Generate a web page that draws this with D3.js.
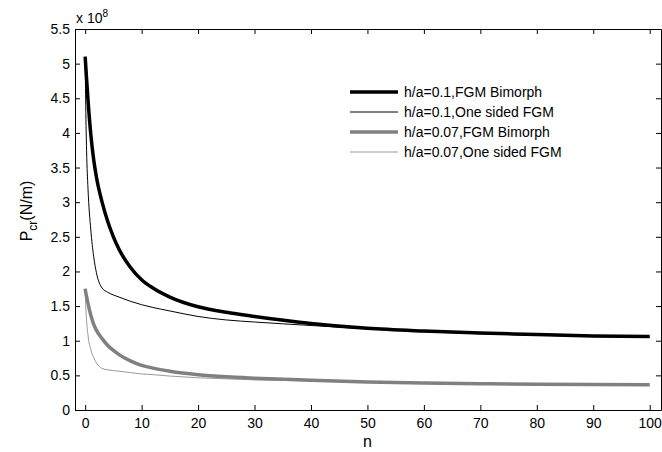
<!DOCTYPE html>
<html>
<head>
<meta charset="utf-8">
<script src="https://cdn.jsdelivr.net/npm/d3@7"></script>
<style>
  body { margin: 0; background: #fff; }
  svg { display: block; font-family: "Liberation Sans", Arial, Helvetica, sans-serif; }
</style>
</head>
<body>
<svg id="chart" width="662" height="452"></svg>
<script>
// sampled n values
const nValues = [0, 0.1, 0.25, 0.5, 1, 1.5, 2, 3, 4, 5, 6, 8, 10, 12, 15, 20, 25, 30, 40, 50, 60, 70, 80, 90, 100];

// values in units of 1e8 N/m
const bimorph01 = [5.10, 4.97, 4.78, 4.48, 3.98, 3.62, 3.36, 3.00, 2.72, 2.50, 2.32, 2.06, 1.88, 1.76, 1.63, 1.49, 1.41, 1.35, 1.25, 1.18, 1.14, 1.11, 1.09, 1.07, 1.06];
const oneSided01 = [5.10, 4.40, 3.75, 3.20, 2.60, 2.22, 1.98, 1.76, 1.70, 1.66, 1.63, 1.57, 1.52, 1.48, 1.43, 1.35, 1.30, 1.27, 1.22, 1.17, 1.13, 1.10, 1.08, 1.06, 1.05];
const bimorph007 = [1.75, 1.70, 1.64, 1.54, 1.37, 1.24, 1.15, 1.03, 0.93, 0.86, 0.80, 0.71, 0.645, 0.605, 0.56, 0.51, 0.48, 0.46, 0.43, 0.405, 0.39, 0.38, 0.372, 0.367, 0.364];
const oneSided007 = [1.75, 1.51, 1.29, 1.08, 0.87, 0.76, 0.68, 0.60, 0.58, 0.57, 0.56, 0.54, 0.52, 0.51, 0.49, 0.465, 0.45, 0.435, 0.42, 0.40, 0.39, 0.38, 0.37, 0.365, 0.36];

const seriesNames = ["h/a=0.1,FGM Bimorph", "h/a=0.1,One sided FGM", "h/a=0.07,FGM Bimorph", "h/a=0.07,One sided FGM"];
const xTicks = [0, 10, 20, 30, 40, 50, 60, 70, 80, 90, 100];
const yTicks = [0, 0.5, 1, 1.5, 2, 2.5, 3, 3.5, 4, 4.5, 5, 5.5];

const series = [
  { name: seriesNames[0], values: bimorph01, color: "#000", width: 3.5 },
  { name: seriesNames[1], values: oneSided01, color: "#000", width: 1 },
  { name: seriesNames[2], values: bimorph007, color: "#808080", width: 3.5 },
  { name: seriesNames[3], values: oneSided007, color: "#999", width: 1 }
];

const svg = d3.select("#chart");
const margin = { left: 75, right: 1, top: 29, bottom: 42 };
const W = 662, H = 452;

const x = d3.scaleLinear().domain([-1.8, 102]).range([margin.left, W - margin.right]);
const y = d3.scaleLinear().domain([0, 5.5]).range([H - margin.bottom, margin.top]);

svg.append("defs").append("clipPath").attr("id", "clip")
  .append("rect")
  .attr("x", margin.left).attr("y", margin.top)
  .attr("width", W - margin.left - margin.right)
  .attr("height", H - margin.top - margin.bottom);

const fmt = d => String(d);

// bottom axis
const xAxis = svg.append("g")
  .attr("transform", `translate(0,${H - margin.bottom})`)
  .call(d3.axisBottom(x).tickValues(xTicks).tickFormat(fmt).tickSizeInner(-5).tickSizeOuter(0).tickPadding(8));
// top axis (mirrored ticks)
const xTop = svg.append("g")
  .attr("transform", `translate(0,${margin.top})`)
  .call(d3.axisTop(x).tickValues(xTicks).tickFormat("").tickSizeInner(-5).tickSizeOuter(0));
// left axis
const yAxis = svg.append("g")
  .attr("transform", `translate(${margin.left},0)`)
  .call(d3.axisLeft(y).tickValues(yTicks).tickFormat(fmt).tickSizeInner(-5).tickSizeOuter(0).tickPadding(5));
// right axis (mirrored ticks)
const yRight = svg.append("g")
  .attr("transform", `translate(${W - margin.right},0)`)
  .call(d3.axisRight(y).tickValues(yTicks).tickFormat("").tickSizeInner(-5).tickSizeOuter(0));

[xAxis, xTop, yAxis, yRight].forEach(a => {
  a.selectAll("path").attr("stroke", "#000").attr("stroke-width", 1);
  a.selectAll("line").attr("stroke", "#000");
  a.selectAll("text").attr("fill", "#000").style("font-size", "14px").style("font-family", "'Liberation Sans', Arial, sans-serif");
});

// curves
const line = d3.line()
  .x((d, i) => x(nValues[i]))
  .y(d => y(d))
  .curve(d3.curveMonotoneX);

svg.append("g").attr("clip-path", "url(#clip)")
  .selectAll("path")
  .data(series.slice().reverse())
  .enter().append("path")
  .attr("d", d => line(d.values))
  .attr("fill", "none")
  .attr("stroke", d => d.color)
  .attr("stroke-width", d => d.width)
  .attr("stroke-linejoin", "round");

// legend
const legend = svg.append("g").attr("transform", "translate(350,92)");
series.forEach((s, i) => {
  legend.append("line")
    .attr("x1", 0).attr("x2", 48)
    .attr("y1", i * 20).attr("y2", i * 20)
    .attr("stroke", s.color).attr("stroke-width", s.width);
  legend.append("text")
    .attr("x", 54).attr("y", i * 20 + 5)
    .style("font-size", "14px")
    .text(s.name);
});

// exponent label
const expo = svg.append("text").attr("x", 76).attr("y", 23).style("font-size", "14px");
expo.append("tspan").text("x 10");
expo.append("tspan").attr("dy", -6).style("font-size", "10px").text("8");

// y label
const yl = svg.append("text")
  .attr("transform", `translate(32,211) rotate(-90)`)
  .attr("text-anchor", "middle")
  .style("font-size", "16px");
yl.append("tspan").text("P");
yl.append("tspan").attr("dy", 5).style("font-size", "12px").text("cr");
yl.append("tspan").attr("dy", -5).text("(N/m)");

// x label
svg.append("text")
  .attr("x", x(50)).attr("y", 447)
  .attr("text-anchor", "middle")
  .style("font-size", "16px")
  .text("n");
</script>
</body>
</html>
